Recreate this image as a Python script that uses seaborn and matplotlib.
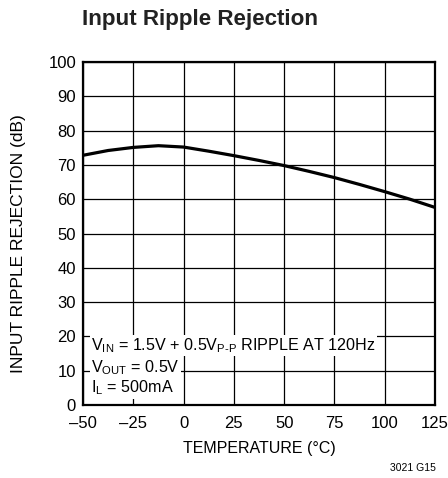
import numpy as np
import pandas as pd
import matplotlib
matplotlib.use("Agg")
import matplotlib.pyplot as plt
import seaborn as sns

temps = [-50, -37.5, -25, -12.5, 0, 12.5, 25, 37.5, 50, 62.5, 75, 87.5, 100, 112.5, 125]
rejection = [72.8, 74.2, 75.1, 75.6, 75.2, 74.0, 72.7, 71.3, 69.8, 68.1, 66.3, 64.3, 62.2, 60.0, 57.6]
xticks = [-50, -25, 0, 25, 50, 75, 100, 125]
xticklabels = ["\u201350", "\u201325", "0", "25", "50", "75", "100", "125"]
yticks = [0, 10, 20, 30, 40, 50, 60, 70, 80, 90, 100]

sns.set_style("white")
fam = "Liberation Sans"
plt.rcParams["font.family"] = [fam, "DejaVu Sans"]
plt.rcParams["text.color"] = "black"
plt.rcParams["mathtext.fontset"] = "custom"
plt.rcParams["mathtext.rm"] = fam
plt.rcParams["mathtext.it"] = fam
plt.rcParams["mathtext.bf"] = fam + ":bold"

df = pd.DataFrame({"T": temps, "R": rejection})

W, H = 448, 478
fig = plt.figure(figsize=(4.48, 4.78), dpi=100)
ax = fig.add_axes([83 / W, 1 - 405 / H, 352 / W, 343 / H])
sns.lineplot(data=df, x="T", y="R", ax=ax, color="black", linewidth=2.3)

ax.set_xlim(-50, 125)
ax.set_ylim(0, 100)
ax.set_xticks(xticks)
ax.set_xticklabels(xticklabels)
ax.set_yticks(yticks)
ax.grid(True, color="black", linewidth=0.9)
ax.set_axisbelow(True)
ax.tick_params(axis="both", length=0, labelsize=12, colors="black", labelcolor="black")
ax.tick_params(axis="x", pad=8)
ax.tick_params(axis="y", pad=5)
for s in ax.spines.values():
    s.set_visible(True)
    s.set_color("black")
    s.set_linewidth(1.6)
ax.set_xlabel("")
ax.set_ylabel("")
fig.text(259 / W, 1 - 449 / H, "TEMPERATURE (\u00b0C)", fontsize=11.5, ha="center", va="center",
         color="black")

renderer = fig.canvas.get_renderer()

def fit(t, target, horizontal=True):
    ext = t.get_window_extent(renderer)
    cur = ext.width if horizontal else ext.height
    t.set_fontsize(t.get_fontsize() * target / cur)

fig.text(19 / W, 1 - 244 / H, "INPUT RIPPLE REJECTION (dB)", fontsize=12.5,
         rotation=90, ha="center", va="center", color="black")

bb = dict(facecolor="white", edgecolor="none", pad=1.0)
ax.text(-46.0, 17.3, r"V$_{\mathrm{IN}}$ = 1.5V + 0.5V$_{\text{P-P}}$ RIPPLE AT 120Hz",
        fontsize=11.6, va="center", ha="left", bbox=bb, color="black")
ax.text(-46.0, 11.0, r"V$_{\mathrm{OUT}}$ = 0.5V", fontsize=11.6, va="center", ha="left",
        bbox=bb, color="black")
ax.text(-46.0, 5.0, r"I$_{\mathrm{L}}$ = 500mA", fontsize=11.6, va="center", ha="left",
        bbox=bb, color="black")

title = fig.text(82 / W, 1 - 19 / H, "Input Ripple Rejection", fontsize=19, fontweight="bold",
                 ha="left", va="center", color="#222222")
fit(title, 236)
fig.text(413 / W, 1 - 468 / H, "3021 G15", fontsize=7.5, ha="center", va="center", color="black")

fig.savefig("out.png", dpi=100)
